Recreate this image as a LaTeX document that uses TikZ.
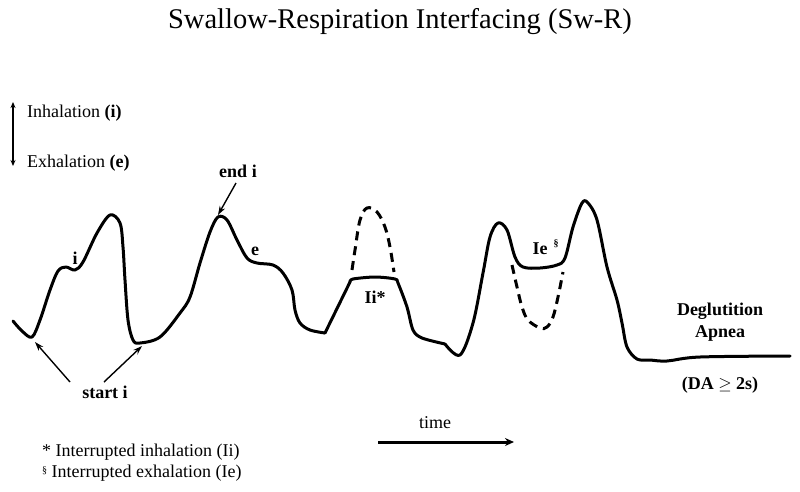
\documentclass[tikz,border=0pt]{standalone}
\usepackage{fontspec}
\setmainfont{Liberation Serif}
\usetikzlibrary{arrows.meta}
\begin{document}
\begin{tikzpicture}[x=1pt,y=-1pt,
  wave/.style={line width=3pt, line cap=round, line join=round},
  dashwave/.style={line width=3pt, dash pattern=on 9pt off 6pt},
  lbl/.style={font=\fontsize{18}{21}\selectfont, inner sep=0pt},
  blbl/.style={font=\fontsize{18}{21}\selectfont\bfseries, inner sep=0pt, align=center},
  pointer/.style={line width=1.4pt, -{Stealth[length=9pt,width=6pt]}},
  dblarrow/.style={line width=1.2pt, {Stealth[length=6pt,width=5pt]}-{Stealth[length=6pt,width=5pt]}},
  timearrow/.style={line width=3pt, -{Stealth[length=9pt,width=8pt]}}]
\useasboundingbox (0,0) rectangle (800,491);

% title
\node[font=\fontsize{28.5}{32}\selectfont, inner sep=0pt] (title) at (400,22) {Swallow-Respiration Interfacing (Sw-R)};

% legend of direction
\coordinate (up) at (13,102);
\coordinate (down) at (13,166);
\draw[dblarrow] (up) -- (down);
\node[lbl, anchor=west] (inh) at (27,113) {Inhalation \textbf{(i)}};
\node[lbl, anchor=west] (exh) at (27,163) {Exhalation \textbf{(e)}};

% waveform
\draw[wave] plot[smooth, tension=0.55] coordinates {(13,321) (22,331) (32,337) (40,320) (50,290) (58,271) (66,267) (75,270) (83,262) (97,233) (110,215) (120,223) (123,247) (125,280) (128,320) (133,340) (140,343) (160,337) (180,313) (190,297) (200,263) (210,232) (218,217) (227,220) (237,240) (247,258) (257,263) (273,265) (283,273) (292,290) (295,310) (300,323) (310,330) (325,333)};
\draw[wave] (325,333) -- (350,282);
\draw[wave] plot[smooth, tension=0.5] coordinates {(350,282) (353,279) (375,277) (395,279) (398,283) (407,307) (413,330) (422,338) (445,344)};
\draw[wave] plot[smooth, tension=0.55] coordinates {(445,344) (460,355) (473,323) (483,273) (490,237) (498,223) (507,230) (515,257) (523,267) (540,268) (557,265) (565,258) (573,227) (582,203) (588,203) (597,220) (607,267) (617,300) (622,323) (627,347) (637,359) (650,360) (667,361) (700,357) (790,356)};

% dashed alternatives
\draw[dashwave] plot[smooth, tension=0.6] coordinates {(352,270) (355,250) (360,220) (367,208) (377,212) (385,227) (390,247) (394,272)};
\draw[dashwave] plot[smooth, tension=0.6] coordinates {(512,265) (517,287) (522,307) (528,320) (540,328) (547,327) (553,317) (558,297) (563,272)};

% labels on curve
\node[blbl] (li) at (75,258) {i};
\node[blbl] (le) at (255,251) {e};
\node[blbl] (lIi) at (375,297) {Ii*};
\node[blbl] (lIe) at (540,249) {Ie};
\node[font=\fontsize{10}{12}\selectfont\bfseries, inner sep=0pt] (sect) at (556,244) {§};
\node[blbl] (endi) at (238,171) {end i};
\node[blbl] (starti) at (105,392) {start i};

\coordinate (peak2) at (218,215);
\coordinate (min1) at (35,342);
\coordinate (min2) at (142,346);
\draw[pointer] (236,183) -- (peak2);
\draw[pointer] (70,382) -- (min1);
\draw[pointer] (104,382) -- (min2);

% deglutition apnea
\node[blbl] (deg) at (720,322) {Deglutition\\[1pt]Apnea};
\node[blbl] (da) at (720,385) {(DA $\geq$ 2s)};

% time arrow
\node[lbl] (time) at (435,423) {time};
\coordinate (t0) at (378,442);
\coordinate (t1) at (514,442);
\draw[timearrow] (t0) -- (t1);

% footnotes
\node[lbl, anchor=west] (fn1) at (42,452) {* Interrupted inhalation (Ii)};
\node[lbl, anchor=west] (fn2) at (42,473) {\raisebox{0.45ex}{\fontsize{10}{12}\selectfont §} Interrupted exhalation (Ie)};
\end{tikzpicture}
\end{document}
